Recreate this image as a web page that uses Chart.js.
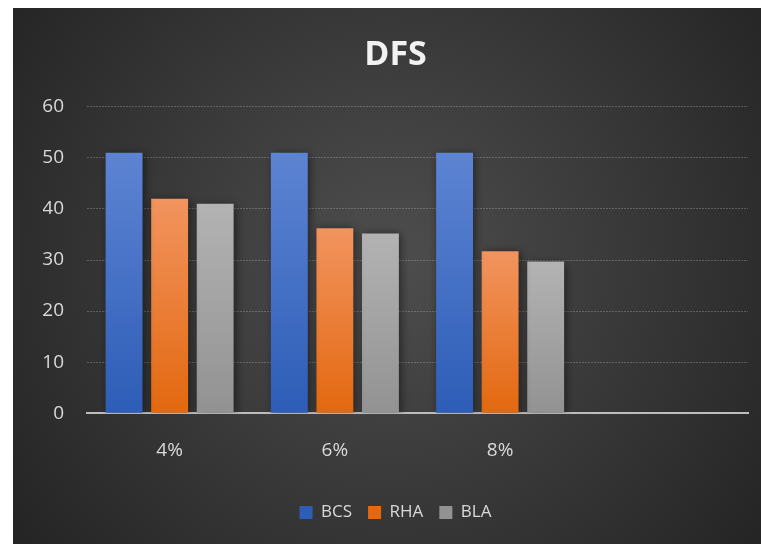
<!DOCTYPE html>
<html>
<head>
<meta charset="utf-8">
<script src="https://cdn.jsdelivr.net/npm/chart.js@4.4.0/dist/chart.umd.min.js"></script>
<style>
  html, body { margin: 0; padding: 0; background: #fff; }
  #wrap { width: 761px; height: 544px; position: relative; }
</style>
</head>
<body>
<div id="wrap"><canvas id="chart" width="761" height="544"></canvas></div>
<script>
const categories = ["4%", "6%", "8%", ""];
const bcs = [51, 51, 51, null];
const rha = [42, 36.2, 31.7, null];
const bla = [41, 35.2, 29.7, null];
const yTicks = [0, 10, 20, 30, 40, 50, 60];

// top / bottom colours of each bar gradient
const blueTop = "#5d84d3", blueBottom = "#2d5db7";
const orangeTop = "#f2945f", orangeBottom = "#e3680f";
const grayTop = "#b3b3b3", grayBottom = "#929292";

function barFill(top, bottom, mid) {
  return function (context) {
    const chart = context.chart;
    if (context.type !== "data" || !chart.chartArea || !context.parsed) return mid;
    const y = chart.scales.y;
    if (!y) return mid;
    const y0 = y.getPixelForValue(context.parsed.y);
    const y1 = y.getPixelForValue(0);
    if (!isFinite(y0) || !isFinite(y1) || y0 === y1) return mid;
    const g = chart.ctx.createLinearGradient(0, y0, 0, y1);
    g.addColorStop(0, top);
    g.addColorStop(1, bottom);
    return g;
  };
}

// dark radial background with the white margin on the left and top
const backgroundPlugin = {
  id: "bg",
  beforeDraw(chart) {
    const c = chart.ctx;
    c.save();
    c.fillStyle = "#ffffff";
    c.fillRect(0, 0, chart.width, chart.height);
    const g = c.createRadialGradient(390, 260, 10, 390, 260, 470);
    g.addColorStop(0, "#4d4d4d");
    g.addColorStop(1, "#242424");
    c.fillStyle = g;
    c.fillRect(13, 8, chart.width - 13, chart.height - 8);
    c.restore();
  }
};

// soft shadow behind the bars
const shadowPlugin = {
  id: "barShadow",
  beforeDatasetsDraw(chart) {
    const c = chart.ctx;
    c.save();
    c.shadowColor = "rgba(0,0,0,0.55)";
    c.shadowBlur = 9;
    c.shadowOffsetX = 2;
    c.shadowOffsetY = 1;
  },
  afterDatasetsDraw(chart) {
    chart.ctx.restore();
  }
};

const ctx = document.getElementById("chart").getContext("2d");
const chart = new Chart(ctx, {
  type: "bar",
  data: {
    labels: categories,
    datasets: [
      { label: "BCS", data: bcs, backgroundColor: barFill(blueTop, blueBottom, "#3f6fc8") },
      { label: "RHA", data: rha, backgroundColor: barFill(orangeTop, orangeBottom, "#ee7b2f") },
      { label: "BLA", data: bla, backgroundColor: barFill(grayTop, grayBottom, "#a5a5a5") }
    ]
  },
  options: {
    responsive: false,
    animation: false,
    devicePixelRatio: 1,
    layout: { padding: { left: 43, right: 13, top: 2, bottom: 13 } },
    datasets: {
      bar: { categoryPercentage: 0.827, barPercentage: 0.81 }
    },
    plugins: {
      title: {
        display: true,
        text: "DFS",
        color: "#f2f2f2",
        font: { family: "'Open Sans'", size: 34, weight: "bold" },
        padding: { top: 33, bottom: 31 }
      },
      legend: {
        position: "bottom",
        labels: {
          color: "#d9d9d9",
          font: { family: "'Open Sans'", size: 17 },
          boxWidth: 13,
          boxHeight: 13,
          padding: 16
        }
      },
      tooltip: { enabled: false }
    },
    scales: {
      x: {
        grid: { display: false, drawTicks: false },
        border: { display: true, color: "#bdbdbd", width: 2 },
        ticks: {
          color: "#d9d9d9",
          font: { family: "'Open Sans'", size: 19 },
          padding: 26
        }
      },
      y: {
        min: 0,
        max: 60,
        afterBuildTicks(scale) {
          scale.ticks = yTicks.map(v => ({ value: v }));
        },
        afterFit(scale) {
          scale.width = 44;
        },
        grid: { color: "rgba(200,200,200,0.3)", lineWidth: 1, drawTicks: false },
        border: { display: false, dash: [2, 1] },
        ticks: {
          color: "#d9d9d9",
          font: { family: "'Open Sans'", size: 19 },
          padding: 23
        }
      }
    }
  },
  plugins: [backgroundPlugin, shadowPlugin]
});
</script>
</body>
</html>
